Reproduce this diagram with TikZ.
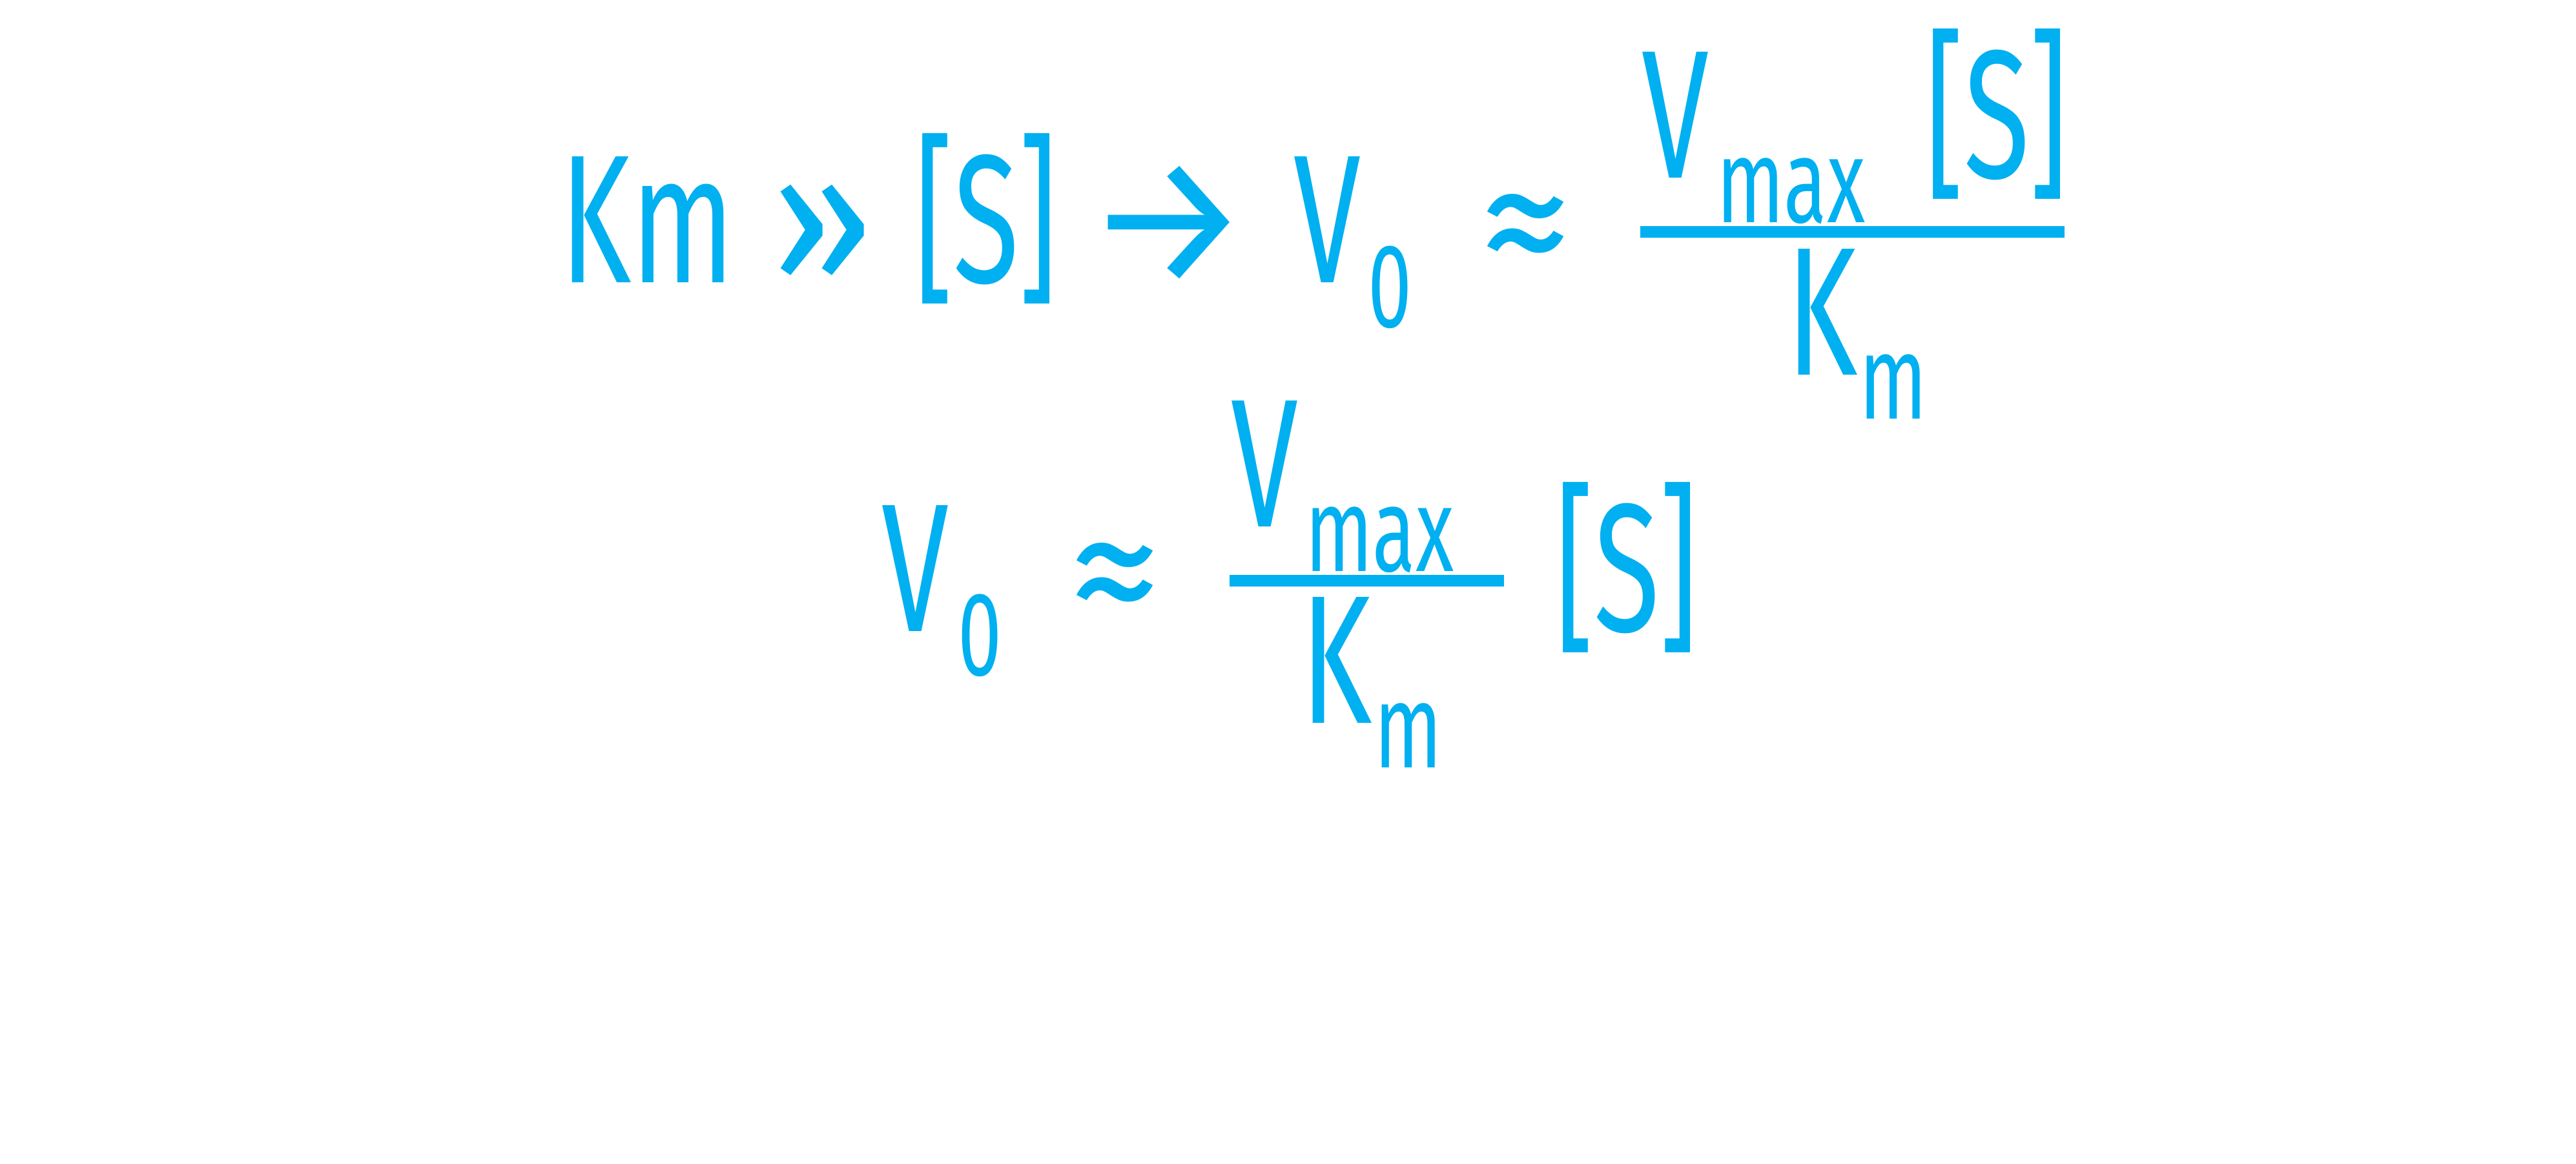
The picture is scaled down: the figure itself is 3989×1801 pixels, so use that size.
\documentclass[tikz,border=0pt]{standalone}
\usepackage{fontspec}
\setmainfont{Fira Sans}[FakeStretch=0.66]
\newfontfamily\symf{Fira Sans}
\definecolor{skyblue}{RGB}{0,176,240}
\tikzset{
  txt/.style={anchor=base west, inner sep=0pt, outer sep=0pt, text=skyblue,
              font=\fontsize{28.3pt}{30pt}\selectfont},
  subtxt/.style={txt, font=\fontsize{18.5pt}{20pt}\selectfont},
  symb/.style={anchor=base, inner sep=0pt, outer sep=0pt, text=skyblue,
               font={\symf\fontsize{28.3pt}{30pt}\selectfont}},
  fracbar/.style={draw=skyblue, line width=1.8pt},
}
\begin{document}
\begin{tikzpicture}[x=0.1pt,y=-0.1pt]
\useasboundingbox (0,0) rectangle (3989,1801);
% ---- line 1 ----
\node[txt] (km) at (867,437) {Km};
\node[symb] (gg) at (1274,437) {»};
\node[txt] (s1) at (1416,437) {[S]};
\node[symb] (arr) at (1809,437) {→};
\node[txt] (v1) at (2003,437) {V};
\node[subtxt] (z1) at (2118,506) {0};
\node[symb] (ap1) at (2362,437) {≈};
\coordinate (b1l) at (2540,359);
\coordinate (b1r) at (3197,359);
\draw[fracbar] (b1l) -- (b1r);
\node[txt] (nv1) at (2542,275) {V};
\node[subtxt] (nmax1) at (2658,344) {max};
\node[txt] (ns1) at (2981,275) {[S]};
\node[txt] (dk1) at (2766,580) {K};
\node[subtxt] (dm1) at (2879,648) {m};
% ---- line 2 ----
\node[txt] (v2) at (1365,977) {V};
\node[subtxt] (z2) at (1483,1045) {0};
\node[symb] (ap2) at (1727,977) {≈};
\coordinate (b2l) at (1904,899);
\coordinate (b2r) at (2329,899);
\draw[fracbar] (b2l) -- (b2r);
\node[txt] (nv2) at (1906,815) {V};
\node[subtxt] (nmax2) at (2021,884) {max};
\node[txt] (dk2) at (2014,1119) {K};
\node[subtxt] (dm2) at (2128,1188) {m};
\node[txt] (s2) at (2408,977) {[S]};
\end{tikzpicture}
\end{document}
